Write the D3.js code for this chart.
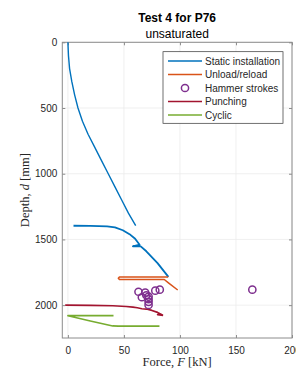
<!DOCTYPE html>
<html><head><meta charset="utf-8">
<script src="https://cdn.jsdelivr.net/npm/d3@7"></script>
<style>html,body{margin:0;padding:0;background:#fff;overflow:hidden}</style>
</head><body>
<script>
// ---- data (Force F [kN], Depth d [mm]) ----
const staticF1 = [0, 0.5, 1.5, 3.5, 6, 9, 13, 18, 24, 30, 36, 42, 48, 54, 60.5];
const staticD1 = [0, 100, 200, 300, 400, 500, 600, 700, 800, 900, 1000, 1100, 1200, 1300, 1395];
const staticF2 = [5, 20, 35, 42, 49, 55, 60, 64, 58, 65, 70, 80, 89.7];
const staticD2 = [1396, 1397, 1400, 1408, 1430, 1460, 1495, 1540, 1552, 1553, 1590, 1680, 1785];
const unloadF = [89.5, 46, 45, 46, 86, 90, 98];
const unloadD = [1785, 1785, 1795, 1805, 1805, 1832, 1885];
const hammerF = [63, 66, 69, 70, 72, 72, 72, 72, 78, 82, 164.6];
const hammerD = [1898, 1940, 1905, 1925, 1935, 1955, 1975, 1998, 1890, 1882, 1882];
const punchF = [-2.4, 20, 40, 52, 58, 62, 66, 70, 75, 80, 84.4, 80, 85];
const punchD = [2000, 2002, 2005, 2010, 2015, 2020, 2027, 2030, 2040, 2055, 2075, 2072, 2078];
const cyclicF = [40.7, 0, 2, 20, 40, 45, 81.7];
const cyclicD = [2080, 2080, 2085, 2120, 2158, 2160, 2160];
const xTicks = [0, 50, 100, 150, 200];
const yTicks = [0, 500, 1000, 1500, 2000];
const legendNames = ["Static installation", "Unload/reload", "Hammer strokes", "Punching", "Cyclic"];
const colors = ["#0072BD", "#D95319", "#7E2F8E", "#A2142F", "#77AC30"];

const W = 296, H = 369;
const L = 62.3, R = 292, T = 42.3, B = 338;
const x = d3.scaleLinear().domain([-5, 200]).range([L, R]);
const y = d3.scaleLinear().domain([0, 2250]).range([T, B]);

const svg = d3.select("body").append("svg").attr("width", W).attr("height", H)
  .style("font-family", "'Liberation Sans', Arial, sans-serif");

// grid
const g = svg.append("g");
g.selectAll(".gx").data(xTicks).join("line")
  .attr("x1", d => x(d)).attr("x2", d => x(d)).attr("y1", T).attr("y2", B)
  .attr("stroke", "#ebebeb").attr("stroke-width", 0.8);
g.selectAll(".gy").data(yTicks).join("line")
  .attr("y1", d => y(d)).attr("y2", d => y(d)).attr("x1", L).attr("x2", R)
  .attr("stroke", "#ebebeb").attr("stroke-width", 0.8);

// axes
const fmt = d3.format("d");
function styleAxis(sel) {
  sel.select(".domain").remove();
  sel.selectAll(".tick line").attr("stroke", "#8c8c8c");
  sel.selectAll(".tick text").attr("fill", "#262626").style("font-size", "10px")
    .style("font-family", "'Liberation Sans', Arial, sans-serif");
}
svg.append("g").attr("transform", `translate(0,${B})`)
  .call(d3.axisBottom(x).tickValues(xTicks).tickFormat(fmt).tickSize(-3).tickPadding(9)).call(styleAxis);
svg.append("g").attr("transform", `translate(${L},0)`)
  .call(d3.axisLeft(y).tickValues(yTicks).tickFormat(fmt).tickSize(-3).tickPadding(5)).call(styleAxis);
svg.append("g").attr("transform", `translate(0,${T})`)
  .call(d3.axisTop(x).tickValues(xTicks).tickSize(-3).tickFormat("")).call(styleAxis);
svg.append("g").attr("transform", `translate(${R},0)`)
  .call(d3.axisRight(y).tickValues(yTicks).tickSize(-3).tickFormat("")).call(styleAxis);
svg.append("rect").attr("x", L).attr("y", T).attr("width", R - L).attr("height", B - T)
  .attr("fill", "none").attr("stroke", "#8c8c8c").attr("stroke-width", 1);

// lines
const line = d3.line().x(d => x(d[0])).y(d => y(d[1]));
const zip = (a, b) => a.map((v, i) => [v, b[i]]);
const plot = svg.append("g");
function drawLine(F, D, c, w) {
  plot.append("path").datum(zip(F, D)).attr("d", line)
    .attr("fill", "none").attr("stroke", c).attr("stroke-width", w)
    .attr("stroke-linejoin", "round");
}
drawLine(staticF1, staticD1, colors[0], 1.4);
drawLine(staticF2, staticD2, colors[0], 1.8);
drawLine(unloadF, unloadD, colors[1], 1.5);
drawLine(punchF, punchD, colors[3], 1.6);
drawLine(cyclicF, cyclicD, colors[4], 1.6);
plot.selectAll(".hm").data(zip(hammerF, hammerD)).join("circle")
  .attr("cx", d => x(d[0])).attr("cy", d => y(d[1])).attr("r", 3.6)
  .attr("fill", "none").attr("stroke", colors[2]).attr("stroke-width", 1.5);

// legend
const lg = svg.append("g");
lg.append("rect").attr("x", 163).attr("y", 51.7).attr("width", 120).attr("height", 71.6)
  .attr("fill", "#fff").attr("stroke", "#333").attr("stroke-width", 0.7);
legendNames.forEach((n, i) => {
  const yy = 61 + i * 13.5;
  if (i === 2) {
    lg.append("circle").attr("cx", 185).attr("cy", yy).attr("r", 3.6)
      .attr("fill", "none").attr("stroke", colors[i]).attr("stroke-width", 1.5);
  } else {
    lg.append("line").attr("x1", 168).attr("x2", 202).attr("y1", yy).attr("y2", yy)
      .attr("stroke", colors[i]).attr("stroke-width", 1.5);
  }
  lg.append("text").attr("x", 205).attr("y", yy).attr("dy", "0.35em")
    .style("font-size", "10px").attr("fill", "#262626").text(n);
});

// titles
svg.append("text").attr("x", (L + R) / 2).attr("y", 22).attr("text-anchor", "middle")
  .style("font-size", "12px").style("font-weight", "bold").attr("fill", "#000").text("Test 4 for P76");
svg.append("text").attr("x", (L + R) / 2).attr("y", 37.5).attr("text-anchor", "middle")
  .style("font-size", "12px").attr("fill", "#000").text("unsaturated");

// axis labels (serif, LaTeX-like)
const xl = svg.append("text").attr("x", (L + R) / 2).attr("y", 366).attr("text-anchor", "middle")
  .style("font-family", "'Liberation Serif', 'DejaVu Serif', serif").style("font-size", "12.5px").attr("fill", "#262626");
xl.append("tspan").text("Force, ");
xl.append("tspan").style("font-style", "italic").text("F");
xl.append("tspan").text(" [kN]");
const yl = svg.append("text").attr("transform", `translate(29,${(T + B) / 2}) rotate(-90)`).attr("text-anchor", "middle")
  .style("font-family", "'Liberation Serif', 'DejaVu Serif', serif").style("font-size", "12.5px").attr("fill", "#262626");
yl.append("tspan").text("Depth, ");
yl.append("tspan").style("font-style", "italic").text("d");
yl.append("tspan").text(" [mm]");
</script>
</body></html>
